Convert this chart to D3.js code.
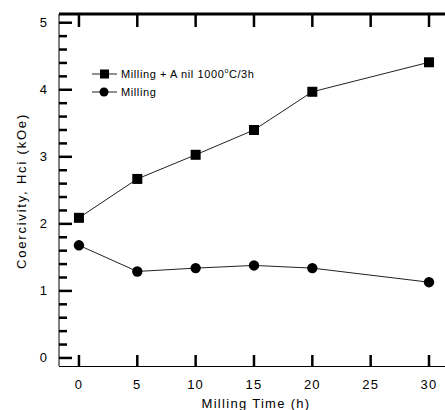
<!DOCTYPE html>
<html>
<head>
<meta charset="utf-8">
<script src="https://cdn.jsdelivr.net/npm/d3@7"></script>
<style>
  body { margin: 0; background: #fff; }
  svg { font-family: "Liberation Sans", Arial, sans-serif; }
</style>
</head>
<body>
<svg id="chart" width="445" height="410"></svg>
<script>
// data
const times = [0, 5, 10, 15, 20, 30];
const annealed = [2.09, 2.67, 3.03, 3.40, 3.97, 4.41];
const milled = [1.68, 1.29, 1.34, 1.38, 1.34, 1.13];
const xTicks = [0, 5, 10, 15, 20, 25, 30];
const yTicks = [0, 1, 2, 3, 4, 5];
const seriesNames = ["Milling + A nil 1000", "Milling"];

const svg = d3.select("#chart");
const mLeft = 59, mRight = 445, mTop = 14, mBottom = 366;

const x = d3.scaleLinear().domain([-1.71, 31.37]).range([mLeft, mRight]);
const y = d3.scaleLinear().domain([-0.12, 5.13]).range([mBottom, mTop]);

// frame: thin left/bottom, heavy top
svg.append("line").attr("x1", mLeft).attr("x2", mLeft).attr("y1", mTop).attr("y2", mBottom)
  .attr("stroke", "#000").attr("stroke-width", 1);
svg.append("line").attr("x1", mLeft).attr("x2", mRight).attr("y1", mBottom + 0.5).attr("y2", mBottom + 0.5)
  .attr("stroke", "#000").attr("stroke-width", 1);
svg.append("line").attr("x1", mLeft).attr("x2", mRight).attr("y1", mTop).attr("y2", mTop)
  .attr("stroke", "#000").attr("stroke-width", 3);

// y ticks (major + minor)
const minor = d3.range(0, 5.01, 0.2).filter(v => Math.abs(v - Math.round(v)) > 0.01);
svg.selectAll(".ymin").data(minor).join("line")
  .attr("x1", mLeft).attr("x2", mLeft + 8)
  .attr("y1", d => y(d)).attr("y2", d => y(d))
  .attr("stroke", "#000").attr("stroke-width", 2.5);
svg.selectAll(".ymaj").data(yTicks).join("line")
  .attr("x1", mLeft).attr("x2", mLeft + 13)
  .attr("y1", d => y(d)).attr("y2", d => y(d))
  .attr("stroke", "#000").attr("stroke-width", 2.5);
svg.selectAll(".ylab").data(yTicks).join("text")
  .attr("x", 47).attr("y", d => y(d) + 4.5)
  .attr("text-anchor", "end").attr("font-size", 13).text(d => d);

// x ticks: up from bottom, down from top
svg.selectAll(".xb").data(xTicks).join("line")
  .attr("x1", d => x(d)).attr("x2", d => x(d))
  .attr("y1", mBottom).attr("y2", mBottom - 11)
  .attr("stroke", "#000").attr("stroke-width", 2.5);
svg.selectAll(".xt").data(xTicks).join("line")
  .attr("x1", d => x(d)).attr("x2", d => x(d))
  .attr("y1", mTop).attr("y2", mTop + 13)
  .attr("stroke", "#000").attr("stroke-width", 2.5);
svg.selectAll(".xlab").data(xTicks).join("text")
  .attr("x", d => x(d)).attr("y", 389)
  .attr("text-anchor", "middle").attr("font-size", 13)
  .attr("letter-spacing", 1.2).text(d => d);

svg.append("text").attr("x", 256).attr("y", 408)
  .attr("text-anchor", "middle").attr("font-size", 13).attr("letter-spacing", 1.3)
  .text("Milling Time (h)");
svg.append("text").attr("transform", `translate(26,191) rotate(-90)`)
  .attr("text-anchor", "middle").attr("font-size", 13).attr("letter-spacing", 1.8)
  .text("Coercivity, Hci (kOe)");

// series
const line = d3.line().x((d, i) => x(times[i])).y(d => y(d));
[annealed, milled].forEach(s => {
  svg.append("path").datum(s).attr("d", line)
    .attr("fill", "none").attr("stroke", "#222").attr("stroke-width", 1);
});
svg.selectAll(".sq").data(annealed).join("rect")
  .attr("x", (d, i) => x(times[i]) - 5).attr("y", d => y(d) - 5)
  .attr("width", 10).attr("height", 10).attr("fill", "#000");
svg.selectAll(".ci").data(milled).join("circle")
  .attr("cx", (d, i) => x(times[i])).attr("cy", d => y(d))
  .attr("r", 5.2).attr("fill", "#000");

// legend
const lg = svg.append("g");
[74, 92].forEach((ly, i) => {
  lg.append("line").attr("x1", 92).attr("x2", 117).attr("y1", ly).attr("y2", ly)
    .attr("stroke", "#222").attr("stroke-width", 1);
  if (i === 0) {
    lg.append("rect").attr("x", 100).attr("y", ly - 4.5).attr("width", 9).attr("height", 9).attr("fill", "#000");
  } else {
    lg.append("circle").attr("cx", 104).attr("cy", ly).attr("r", 4.5).attr("fill", "#000");
  }
  const t = lg.append("text").attr("x", 121).attr("y", ly + 4).attr("font-size", 11)
    .attr("letter-spacing", 0.6);
  t.append("tspan").text(seriesNames[i]);
  if (i === 0) {
    t.append("tspan").attr("dy", -5).attr("font-size", 7).text("o");
    t.append("tspan").attr("dy", 5).text("C/3h");
  }
});
</script>
</body>
</html>
